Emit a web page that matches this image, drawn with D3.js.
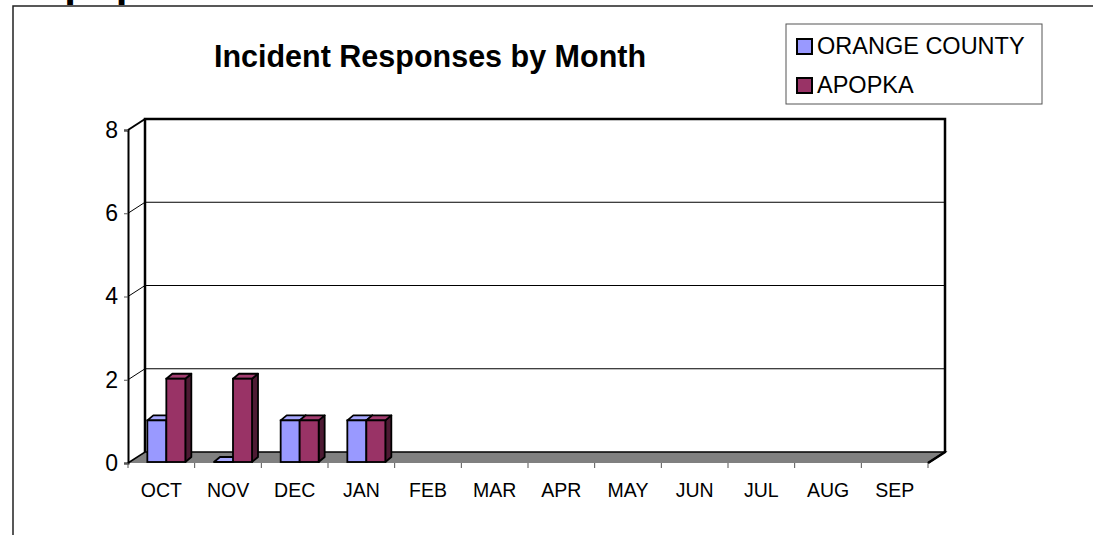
<!DOCTYPE html>
<html>
<head>
<meta charset="utf-8">
<script src="https://cdn.jsdelivr.net/npm/d3@7"></script>
<style>
  body { margin: 0; background: #fff; }
  svg { display: block; font-family: "Liberation Sans", Arial, sans-serif; }
</style>
</head>
<body>
<div id="chart"></div>
<script>
// chart data
var months = ["OCT", "NOV", "DEC", "JAN", "FEB", "MAR", "APR", "MAY", "JUN", "JUL", "AUG", "SEP"];
var seriesNames = ["ORANGE COUNTY", "APOPKA"];
var orangeCounty = [1, 0, 1, 1, null, null, null, null, null, null, null, null];
var apopka = [2, 2, 1, 1, null, null, null, null, null, null, null, null];
var yTicks = [0, 2, 4, 6, 8];

var colors = ["#9999ff", "#993366"];
var sideColors = ["#4d4d80", "#4d1a33"];
var topColors = ["#a8a8ff", "#a33d70"];

var width = 1093, height = 535;
// depth of the 3d walls and of the bars
var wallDx = 17, wallDy = -11;
var barDx = 6, barDy = -5;

var svg = d3.select("#chart").append("svg")
  .attr("width", width)
  .attr("height", height);

// page heading above the chart, cut off by the window top
svg.append("text")
  .attr("x", 34)
  .attr("y", -4)
  .attr("font-size", 42)
  .attr("font-weight", "bold")
  .text("Apopka");

// chart area frame
svg.append("rect")
  .attr("x", 13).attr("y", 6)
  .attr("width", width).attr("height", height)
  .attr("fill", "#fff")
  .attr("stroke", "#222")
  .attr("stroke-width", 1.5);

// scales
var x0 = d3.scaleBand().domain(months).range([128, 928]);
var x1 = d3.scaleBand().domain(seriesNames).range([0, 38]);
var y = d3.scaleLinear().domain([0, 8]).range([463, 130]);

var line = d3.line();

// title
svg.append("text")
  .attr("x", 430)
  .attr("y", 67)
  .attr("text-anchor", "middle")
  .attr("font-size", 30.5)
  .attr("font-weight", "bold")
  .text("Incident Responses by Month");

// floor
var xl = x0.range()[0], xr = x0.range()[1];
svg.append("path")
  .attr("d", line([[xl, y(0)], [xr, y(0)], [xr + wallDx, y(0) + wallDy], [xl + wallDx, y(0) + wallDy]]) + "Z")
  .attr("fill", "#808080")
  .attr("stroke", "none");
svg.append("path")
  .attr("d", line([[xl, y(0)], [xl + wallDx, y(0) + wallDy], [xr + wallDx, y(0) + wallDy], [xr, y(0)]]))
  .attr("fill", "none")
  .attr("stroke", "#000")
  .attr("stroke-width", 1.5);

// gridlines on back wall and side wall
yTicks.filter(function (d) { return d > 0 && d < 8; }).forEach(function (t) {
  svg.append("path")
    .attr("d", line([[xl, y(t)], [xl + wallDx, y(t) + wallDy], [xr + wallDx, y(t) + wallDy]]))
    .attr("fill", "none")
    .attr("stroke", "#000")
    .attr("stroke-width", 1);
});

// back wall outline
svg.append("path")
  .attr("d", line([[xl + wallDx, y(0) + wallDy], [xl + wallDx, y(8) + wallDy], [xr + wallDx, y(8) + wallDy], [xr + wallDx, y(0) + wallDy], [xr, y(0)]]))
  .attr("fill", "none")
  .attr("stroke", "#000")
  .attr("stroke-width", 2.5);
svg.append("path")
  .attr("d", line([[xl, y(8)], [xl + wallDx, y(8) + wallDy]]))
  .attr("stroke", "#000")
  .attr("stroke-width", 2);

// y axis
var yAxis = d3.axisLeft(y).tickValues(yTicks).tickSize(4).tickPadding(6);
var gy = svg.append("g")
  .attr("transform", "translate(" + xl + ",0)")
  .call(yAxis);
gy.attr("font-size", null).attr("font-family", null);
gy.select(".domain").attr("stroke", "#000").attr("stroke-width", 2);
gy.selectAll(".tick line").attr("stroke", "#555");
gy.selectAll(".tick text")
  .style("font-size", "23px")
  .attr("fill", "#000");

// x axis: labels at band centres, ticks at band edges
var xAxis = d3.axisBottom(x0).tickSize(0).tickPadding(20);
var gx = svg.append("g")
  .attr("transform", "translate(0," + y(0) + ")")
  .call(xAxis);
gx.attr("font-size", null).attr("font-family", null);
gx.select(".domain").remove();
gx.selectAll(".tick text")
  .style("font-size", "19.5px")
  .attr("fill", "#000");
var edges = months.map(function (m) { return x0(m); }).concat([xr]);
svg.selectAll("line.xtick")
  .data(edges)
  .enter().append("line")
  .attr("class", "xtick")
  .attr("x1", function (d) { return d; })
  .attr("x2", function (d) { return d; })
  .attr("y1", y(0))
  .attr("y2", y(0) + 5)
  .attr("stroke", "#555");

// bars
var allSeries = [orangeCounty, apopka];
var groupOffset = (x0.bandwidth() - 38) / 2 + 5;
var base = y(0) - 1;
var bars = svg.append("g").attr("class", "bars");
months.forEach(function (m, i) {
  allSeries.forEach(function (vals, s) {
    var v = vals[i];
    if (v === null) return;
    var bx = x0(m) + groupOffset + x1(seriesNames[s]);
    var bw = x1.bandwidth();
    var top = y(v) - 1;
    var g = bars.append("g");
    // side face
    g.append("path")
      .attr("d", line([[bx + bw, top], [bx + bw + barDx, top + barDy], [bx + bw + barDx, base + barDy], [bx + bw, base]]) + "Z")
      .attr("fill", sideColors[s])
      .attr("stroke", "#000")
      .attr("stroke-width", 1.8)
      .attr("stroke-linejoin", "round");
    // top face
    g.append("path")
      .attr("d", line([[bx, top], [bx + barDx, top + barDy], [bx + bw + barDx, top + barDy], [bx + bw, top]]) + "Z")
      .attr("fill", topColors[s])
      .attr("stroke", "#000")
      .attr("stroke-width", 1.8)
      .attr("stroke-linejoin", "round");
    // front face
    if (base - top > 0) {
      g.append("rect")
        .attr("x", bx)
        .attr("y", top)
        .attr("width", bw)
        .attr("height", base - top)
        .attr("fill", colors[s])
        .attr("stroke", "#000")
        .attr("stroke-width", 1.8);
    }
  });
});

// legend
var legend = svg.append("g").attr("class", "legend");
legend.append("rect")
  .attr("x", 786).attr("y", 24)
  .attr("width", 256).attr("height", 80)
  .attr("fill", "#fff")
  .attr("stroke", "#555")
  .attr("stroke-width", 1);
seriesNames.forEach(function (name, s) {
  legend.append("rect")
    .attr("x", 797).attr("y", 39 + s * 39)
    .attr("width", 15).attr("height", 15)
    .attr("fill", colors[s])
    .attr("stroke", "#000")
    .attr("stroke-width", 2);
  legend.append("text")
    .attr("x", 817).attr("y", 54 + s * 39)
    .attr("font-size", 23.5)
    .text(name);
});
</script>
</body>
</html>
